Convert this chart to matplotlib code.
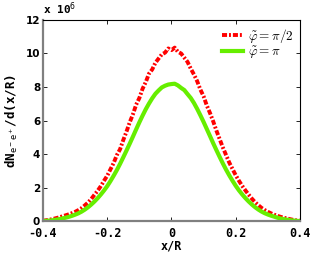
import matplotlib
matplotlib.use('Agg')
import matplotlib.pyplot as plt
import numpy as np

# x/R positions (step 0.01) and yields in units of 1e6
x_pos = np.round(np.arange(-40, 41) * 0.01, 2)

red_half_pi = [0.04, 0.07, 0.10, 0.14, 0.19, 0.24, 0.30, 0.36, 0.42, 0.49,
               0.57, 0.67, 0.79, 0.95, 1.12, 1.33, 1.58, 1.82, 2.10, 2.42,
               2.72, 3.10, 3.48, 3.95, 4.30, 4.85, 5.35, 5.90, 6.38, 6.95,
               7.35, 7.90, 8.30, 8.80, 9.05, 9.45, 9.70, 9.95, 10.05, 10.30,
               10.20,
               10.35, 10.10, 10.00, 9.75, 9.50, 9.10, 8.75, 8.35, 7.85, 7.45,
               6.90, 6.45, 5.95, 5.40, 4.90, 4.40, 3.95, 3.50, 3.12, 2.75,
               2.42, 2.12, 1.85, 1.60, 1.36, 1.15, 0.97, 0.81, 0.68, 0.57,
               0.48, 0.40, 0.33, 0.27, 0.22, 0.17, 0.13, 0.09, 0.06, 0.04]

green_pi = [0.02, 0.03, 0.05, 0.07, 0.10, 0.13, 0.17, 0.22, 0.27, 0.33,
            0.40, 0.48, 0.58, 0.70, 0.84, 1.00, 1.18, 1.38, 1.60, 1.84,
            2.10, 2.40, 2.72, 3.06, 3.43, 3.82, 4.22, 4.63, 5.05, 5.48,
            5.90, 6.30, 6.68, 7.02, 7.33, 7.60, 7.80, 7.98, 8.08, 8.15,
            8.18,
            8.20, 8.10, 7.95, 7.82, 7.58, 7.35, 7.05, 6.70, 6.32, 5.92,
            5.50, 5.08, 4.65, 4.24, 3.84, 3.45, 3.08, 2.74, 2.42, 2.12,
            1.85, 1.61, 1.39, 1.19, 1.01, 0.85, 0.71, 0.59, 0.49, 0.41,
            0.34, 0.28, 0.22, 0.17, 0.13, 0.10, 0.07, 0.05, 0.03, 0.02]

x_ticks = [-0.4, -0.2, 0, 0.2, 0.4]
x_tick_labels = ['-0.4', '-0.2', '0', '0.2', '0.4']
y_ticks = [0, 2, 4, 6, 8, 10, 12]

fig = plt.figure(figsize=(3.32, 2.62), dpi=100)
ax = fig.add_axes([0.1295, 0.155, 0.774, 0.769])

ax.plot(x_pos, red_half_pi, color='#ff0000', lw=2.8, dashes=(1.3, 0.5, 0.5, 0.5),
        label=r'$\tilde{\varphi}=\pi/2$')
ax.plot(x_pos, green_pi, '-', color='#66ee00', lw=3.0,
        label=r'$\tilde{\varphi}=\pi$')

ax.set_xlim(-0.4, 0.4)
ax.set_ylim(0, 12)
ax.set_xticks(x_ticks)
ax.set_xticklabels(x_tick_labels, fontfamily='DejaVu Sans Mono',
                   fontweight='bold', fontsize=8.5)
ax.set_yticks(y_ticks)
ax.set_yticklabels([str(v) for v in y_ticks], fontweight='bold', fontsize=7.5)
ax.tick_params(direction='in', top=True, right=True, length=3, width=0.6)
ax.tick_params(axis='x', pad=4)
ax.tick_params(axis='y', pad=2)

for s in ['left', 'bottom']:
    ax.spines[s].set_color('#808080')
    ax.spines[s].set_linewidth(1.6)
for s in ['top', 'right']:
    ax.spines[s].set_linewidth(0.8)

ax.set_xlabel('x/R', fontfamily='DejaVu Sans Mono', fontweight='bold',
              fontsize=8.5, labelpad=0)
ax.set_ylabel(r'dN$_{\mathtt{e}^-\mathtt{e}^+}$/d(x/R)',
              fontfamily='DejaVu Sans Mono', fontweight='bold',
              fontsize=9, labelpad=4)

ax.text(0.0, 1.015, r'x 10$^6$', transform=ax.transAxes,
        fontfamily='DejaVu Sans Mono', fontweight='bold', fontsize=8,
        va='bottom', ha='left')

leg = ax.legend(loc='upper right', frameon=False, fontsize=9.5,
                handlelength=1.6, handletextpad=0.35, borderaxespad=0.2,
                borderpad=0.3, labelspacing=0.0)
for t in leg.get_texts():
    t.set_math_fontfamily('cm')

fig.savefig('out.png', dpi=100)
